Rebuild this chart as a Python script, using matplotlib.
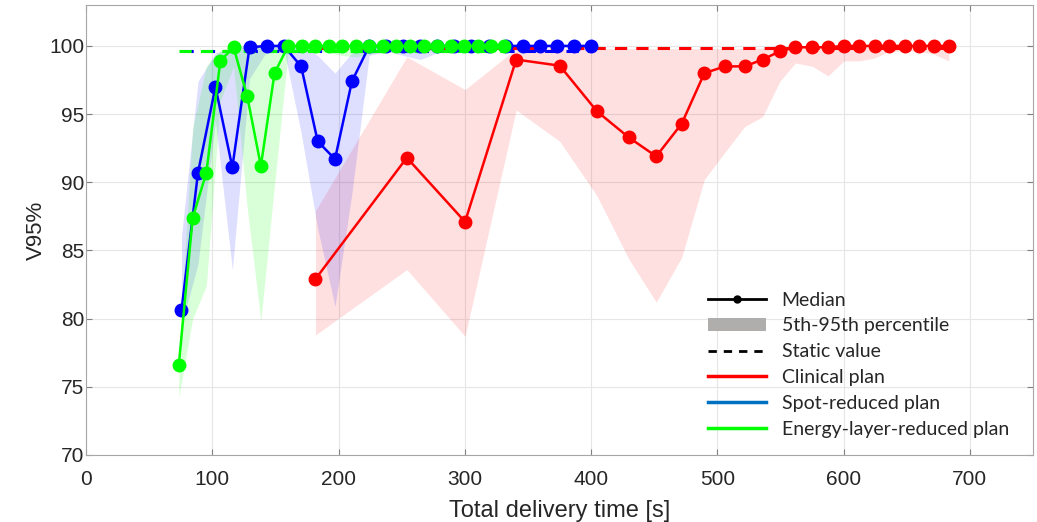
import matplotlib
matplotlib.use("Agg")
import matplotlib.pyplot as plt
from matplotlib.lines import Line2D
from matplotlib.patches import Patch

# ---- data ----
clin_t = [181.7, 254.1, 300.2, 340.7, 375.2, 404.7, 429.7, 451.6, 471.8, 489.7, 506.0, 521.8, 535.8,
          549.5, 561.8, 575.3, 587.6, 600.3, 612.2, 624.5, 635.9, 648.3, 660.1, 671.4, 683.3]
clin_med = [82.9, 91.8, 87.1, 99.0, 98.55, 95.2, 93.3, 91.9, 94.3, 98.0, 98.5, 98.5, 99.0,
            99.6, 99.9, 99.9, 99.9, 100, 100, 100, 100, 100, 100, 100, 100]
clin_lo = [78.8, 83.6, 78.7, 95.3, 93.0, 89.0, 84.4, 81.2, 84.5, 90.2, 92.2, 94.1, 94.8,
           97.4, 98.75, 98.5, 97.8, 98.9, 98.9, 99.1, 99.6, 99.65, 99.6, 99.4, 98.9]
clin_hi = [87.9, 99.2, 96.8, 99.8, 99.8, 99.8, 99.8, 99.8, 99.8, 99.8, 99.8, 99.8, 99.85,
           99.9, 100, 100, 100, 100, 100, 100, 100, 100, 100, 100, 100]
clin_static = 99.85

spot_t = [75.6, 88.7, 102.5, 115.9, 129.5, 143.2, 156.7, 170.4, 183.5, 197.2, 210.6, 224.3, 237.8,
          251.3, 264.8, 278.3, 291.8, 305.3, 318.8, 332.3, 345.8, 359.3, 372.8, 386.3, 399.7]
spot_med = [80.6, 90.7, 97.0, 91.1, 99.9, 100, 100, 98.5, 93.0, 91.7, 97.4, 100, 100,
            100, 100, 100, 100, 100, 100, 100, 100, 100, 100, 100, 100]
spot_lo = [79.5, 84.0, 94.5, 83.6, 97.6, 99.6, 99.8, 93.6, 86.6, 80.9, 89.2, 99.3, 99.6,
           99.3, 99.0, 99.5, 99.7, 99.8, 99.8, 99.8, 99.9, 99.9, 99.9, 99.9, 99.9]
spot_hi = [86.0, 97.4, 99.5, 99.8, 100, 100, 100, 100, 99.3, 98.0, 99.5, 100, 100,
           100, 100, 100, 100, 100, 100, 100, 100, 100, 100, 100, 100]
spot_static = 99.65

en_t = [73.5, 84.5, 95.3, 106.4, 116.9, 127.7, 138.5, 149.3, 160.1, 170.8, 181.5, 192.3, 203.0,
        213.7, 224.4, 235.2, 245.9, 256.6, 267.3, 278.1, 288.8, 299.5, 310.2, 320.9, 331.0]
en_med = [76.6, 87.4, 90.7, 98.9, 99.9, 96.3, 91.2, 98.0, 100, 100, 100, 100, 100,
          100, 100, 100, 100, 100, 100, 100, 100, 100, 100, 100, 100]
en_lo = [74.2, 80.0, 82.4, 96.0, 98.5, 88.1, 79.8, 89.8, 99.5, 99.6, 99.6, 99.5, 99.3,
         99.2, 99.4, 99.6, 99.7, 99.8, 99.8, 99.8, 99.8, 99.8, 99.8, 99.8, 99.8]
en_hi = [77.5, 94.0, 98.5, 99.7, 100, 100, 100, 100, 100, 100, 100, 100, 100,
         100, 100, 100, 100, 100, 100, 100, 100, 100, 100, 100, 100]
en_static = 99.65

x_ticks = [0, 100, 200, 300, 400, 500, 600, 700]
y_ticks = [70, 75, 80, 85, 90, 95, 100]
legend_labels = ["Median", "5th-95th percentile", "Static value",
                 "Clinical plan", "Spot-reduced plan", "Energy-layer-reduced plan"]

# ---- style ----
RED, BLUE, GREEN = "#ff0000", "#0000ff", "#00ff00"
plt.rcParams["font.family"] = ["Liberation Sans Narrow", "Liberation Sans", "DejaVu Sans"]
leg_font = ["Lato", "DejaVu Sans"]

fig = plt.figure(figsize=(10.37, 5.22), dpi=100)
ax = fig.add_axes([86 / 1037, 1 - 455 / 522, (1033 - 86) / 1037, (455 - 5) / 522])

ax.fill_between(clin_t, clin_lo, clin_hi, color=RED, alpha=0.12, linewidth=0, zorder=1)
ax.fill_between(spot_t, spot_lo, spot_hi, color=BLUE, alpha=0.13, linewidth=0, zorder=1)
ax.fill_between(en_t, en_lo, en_hi, color=GREEN, alpha=0.15, linewidth=0, zorder=1)

for t, s, c in [(clin_t, clin_static, RED), (spot_t, spot_static, BLUE), (en_t, en_static, GREEN)]:
    ax.plot([t[0], t[-1]], [s, s], color=c, lw=2.2, ls=(0, (4, 3)), zorder=2)

for t, m, c in [(clin_t, clin_med, RED), (spot_t, spot_med, BLUE), (en_t, en_med, GREEN)]:
    ax.plot(t, m, color=c, lw=1.8, marker="o", markersize=9, zorder=3)

ax.set_xlim(0, 750)
ax.set_ylim(70, 103)
ax.set_xticks(x_ticks)
ax.set_yticks(y_ticks)
ax.grid(True, color="#e6e6e6", lw=0.8)
ax.set_axisbelow(True)
ax.tick_params(direction="in", top=True, right=True, length=4, color="#808080",
               labelsize=15, labelcolor="#262626")
ax.tick_params(axis="y", pad=1)
ax.tick_params(axis="x", pad=11)
for sp in ax.spines.values():
    sp.set_color("#a6a6a6")
    sp.set_linewidth(0.8)

ax.set_xlabel("Total delivery time [s]", fontsize=17, color="#262626", labelpad=8)
ax.set_ylabel("V95%", fontsize=16, color="#262626", labelpad=2)

handles = [
    Line2D([0], [0], color="black", lw=2, marker="o", markersize=5),
    Patch(facecolor="#b0adad", edgecolor="none"),
    Line2D([0], [0], color="black", lw=2, ls=(0, (3, 2.5))),
    Line2D([0], [0], color=RED, lw=2.5),
    Line2D([0], [0], color="#0070c0", lw=2.5),
    Line2D([0], [0], color=GREEN, lw=2.5),
]
leg = ax.legend(handles, legend_labels, loc="lower right", bbox_to_anchor=(0.993, 0.0),
                frameon=False, handlelength=3.0, handleheight=0.6, labelspacing=0.45,
                handletextpad=0.8, prop={"family": leg_font, "size": 14})
for t in leg.get_texts():
    t.set_color("#262626")

fig.savefig("out.png", dpi=100)
